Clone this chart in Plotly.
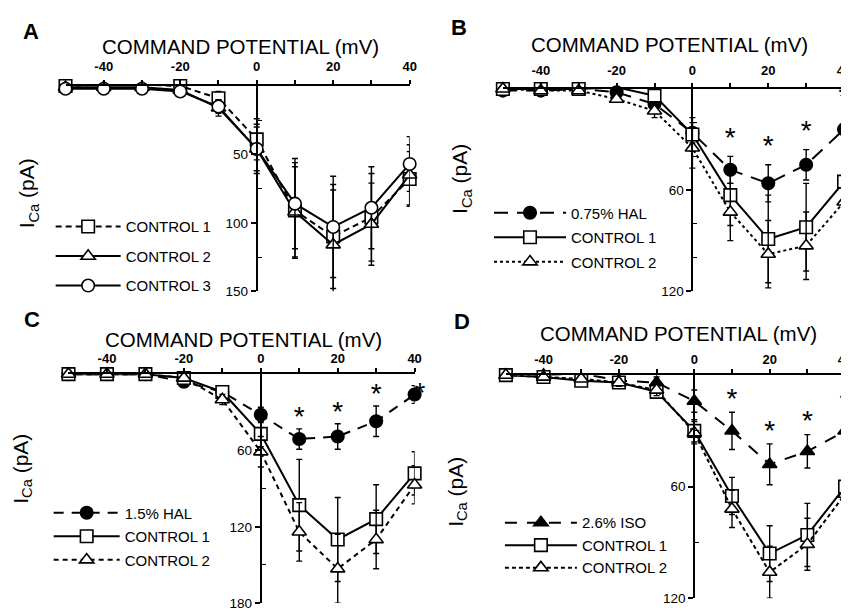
import plotly.graph_objects as go

W, H = 849, 611

# ---------------- data ----------------
volts = [-50, -40, -30, -20, -10, 0, 10, 20, 30, 40]

# Panel A
a_ctrl1 = [0, -1, -1, 0, 9, 39, 91, 110, 96, 68]
a_ctrl1_err = [1, 1, 1, 2, 5, 15, 35, 38, 32, 20]
a_ctrl2 = [1, 1, 1, 3, 16, 46, 92, 116, 101, 65]
a_ctrl2_err = [1, 1, 1, 2, 6, 18, 33, 40, 30, 22]
a_ctrl3 = [2, 2, 2, 4, 15, 46, 86, 103, 89, 57]
a_ctrl3_err = [1, 1, 1, 2, 5, 16, 33, 37, 30, 20]

# Panel B
b_hal = [1, 1, 0, 2, 9, 26, 48, 56, 45, 24]
b_hal_err = [1, 1, 1, 2, 3, 6, 8, 11, 9, 8]
b_ctrl1 = [0, 0, 0, -1, 4, 27, 63, 89, 82, 55]
b_ctrl1_err = [1, 1, 1, 2, 4, 10, 18, 26, 26, 18]
b_ctrl2 = [0, 1, 1, 6, 13, 35, 73, 98, 93, 67]
b_ctrl2_err = [1, 1, 1, 2, 4, 12, 17, 20, 20, 15]

# Panel C
c_hal = [0, 0, 0, 6, 14, 32, 51, 49, 37, 16]
c_hal_err = [1, 1, 1, 2, 3, 6, 8, 10, 12, 7]
c_ctrl1 = [0, 0, 0, 3, 14, 47, 103, 130, 114, 78]
c_ctrl1_err = [1, 1, 1, 2, 4, 10, 36, 33, 27, 17]
c_ctrl2 = [0, 0, 0, 3, 20, 61, 124, 153, 130, 87]
c_ctrl2_err = [1, 1, 1, 2, 4, 12, 23, 27, 23, 15]

# Panel D
d_iso = [-1, 0, -1, 3, 4, 14, 30, 48, 41, 30]
d_iso_err = [1, 1, 1, 2, 3, 6, 10, 11, 9, 8]
d_ctrl1 = [0, 1, 3, 4, 9, 30, 65, 96, 86, 60]
d_ctrl1_err = [1, 1, 1, 2, 3, 6, 10, 15, 17, 10]
d_ctrl2 = [0, 1, 2, 4, 8, 31, 72, 106, 91, 64]
d_ctrl2_err = [1, 1, 1, 2, 3, 6, 10, 14, 14, 10]

sig_volts = [10, 20, 30, 40]

x_major = [-40, -20, 0, 20, 40]
x_minor = [-30, -10, 10, 30]

FONT = "Liberation Sans, Arial, Helvetica, sans-serif"

def px(x):
    return x / W

def py(y):
    return 1 - y / H

# panel geometry in pixels
panels = {
    "A": dict(x0=58, x1=405, y0=79, y1=287, ymax=150, major=[50, 100, 150], minor=[25, 75, 125], standoff=4),
    "B": dict(x0=499, x1=843, y0=82, y1=287, ymax=120, major=[60, 120], minor=[20, 40, 80, 100], standoff=3),
    "C": dict(x0=61, x1=410, y0=371, y1=603, ymax=180, major=[60, 120, 180], minor=[30, 90, 150], standoff=0),
    "D": dict(x0=502, x1=844, y0=372, y1=598, ymax=120, major=[60, 120], minor=[30, 90], standoff=0),
}

fig = go.Figure()
layout = dict(
    width=W, height=H, margin=dict(l=0, r=0, t=0, b=0),
    paper_bgcolor="white", plot_bgcolor="rgba(0,0,0,0)",
    font=dict(family=FONT, color="black"),
    showlegend=True,
)

for i, (name, g) in enumerate(panels.items()):
    sfx = "" if i == 0 else str(i + 1)
    xdom = [px(g["x0"]), px(g["x1"])]
    ydom = [py(g["y1"]), py(g["y0"])]
    x_zero = g["x0"] + (g["x1"] - g["x0"]) * 50 / 90
    layout["xaxis" + sfx] = dict(
        domain=xdom, range=[-50, 40], side="top", anchor="y" + sfx,
        showline=True, linewidth=2, linecolor="black",
        ticks="outside", ticklen=4, tickwidth=1.5, tickcolor="black",
        tickvals=x_major, ticktext=[str(v) for v in x_major],
        minor=dict(tickvals=x_minor, ticks="outside", ticklen=4, tickwidth=1.5, tickcolor="black"),
        tickfont=dict(size=13, family=FONT, weight="bold"),
        ticklabelstandoff=g["standoff"],
        showgrid=False, zeroline=False, fixedrange=True,
    )
    layout["yaxis" + sfx] = dict(
        domain=ydom, range=[g["ymax"], 0], anchor="free", position=px(x_zero),
        showline=True, linewidth=2, linecolor="black",
        ticks="outside", ticklen=5, tickwidth=1.5, tickcolor="black",
        tickvals=g["major"], ticktext=[str(v) for v in g["major"]],
        tickfont=dict(size=13.5, family=FONT),
        minor=dict(tickvals=g["minor"], ticks="inside", ticklen=4, tickwidth=1.2, tickcolor="black"),
        showgrid=False, zeroline=False, fixedrange=True,
    )

ERR = dict(type="data", color="black", thickness=1.4, width=3)

def add_series(xa, ya, leg, name, vals, err, symbol, fill, dash, group):
    fig.add_trace(go.Scatter(
        x=volts, y=vals, xaxis=xa, yaxis=ya, name=name, legend=leg, legendgroup=group,
        mode="lines+markers", cliponaxis=False,
        line=dict(color="black", width=2, dash=dash),
        marker=dict(symbol=symbol, size=12.5, color=fill, line=dict(color="black", width=1.6)),
        error_y=dict(array=err, **ERR),
    ))

def add_stars(xa, ya, vals, err, pad, last_shift=False):
    sx, sy, pos = [], [], []
    for v in sig_volts:
        k = volts.index(v)
        sx.append(v)
        sy.append(vals[k] - err[k] - pad)
        pos.append("middle center")
    if last_shift:
        sy[-1] = vals[-1]
        pos[-1] = "middle right"
    fig.add_trace(go.Scatter(
        x=sx, y=sy, xaxis=xa, yaxis=ya, mode="text", text=["*"] * len(sx),
        textposition=pos, textfont=dict(size=28, family=FONT, color="black"),
        showlegend=False, cliponaxis=False, hoverinfo="skip",
    ))

# Panel A
add_series("x", "y", "legend", "CONTROL 1", a_ctrl1, a_ctrl1_err, "square", "white", "6px,4px", "a1")
add_series("x", "y", "legend", "CONTROL 2", a_ctrl2, a_ctrl2_err, "triangle-up", "white", "solid", "a2")
add_series("x", "y", "legend", "CONTROL 3", a_ctrl3, a_ctrl3_err, "circle", "white", "solid", "a3")

# Panel B
add_series("x2", "y2", "legend2", "0.75% HAL", b_hal, b_hal_err, "circle", "black", "14px,9px", "b1")
add_series("x2", "y2", "legend2", "CONTROL 1", b_ctrl1, b_ctrl1_err, "square", "white", "solid", "b2")
add_series("x2", "y2", "legend2", "CONTROL 2", b_ctrl2, b_ctrl2_err, "triangle-up", "white", "3px,3px", "b3")
add_stars("x2", "y2", b_hal, b_hal_err, 10)

# Panel C
add_series("x3", "y3", "legend3", "1.5% HAL", c_hal, c_hal_err, "circle", "black", "10px,8px", "c1")
add_series("x3", "y3", "legend3", "CONTROL 1", c_ctrl1, c_ctrl1_err, "square", "white", "solid", "c2")
add_series("x3", "y3", "legend3", "CONTROL 2", c_ctrl2, c_ctrl2_err, "triangle-up", "white", "5px,4px", "c3")
add_stars("x3", "y3", c_hal, c_hal_err, 8, last_shift=True)

# Panel D
add_series("x4", "y4", "legend4", "2.6% ISO", d_iso, d_iso_err, "triangle-up", "black", "12px,10px", "d1")
add_series("x4", "y4", "legend4", "CONTROL 1", d_ctrl1, d_ctrl1_err, "square", "white", "solid", "d2")
add_series("x4", "y4", "legend4", "CONTROL 2", d_ctrl2, d_ctrl2_err, "triangle-up", "white", "4px,3px", "d3")
add_stars("x4", "y4", d_iso, d_iso_err, 6)

leg_common = dict(
    bgcolor="rgba(0,0,0,0)", borderwidth=0,
    font=dict(size=15, family=FONT), xanchor="left", yanchor="top",
    traceorder="grouped", itemclick=False, itemdoubleclick=False,
)
layout["legend"] = dict(x=px(43), y=py(205), tracegroupgap=7, itemwidth=65, **leg_common)
layout["legend2"] = dict(x=px(485), y=py(191), tracegroupgap=2, itemwidth=72, **leg_common)
layout["legend3"] = dict(x=px(41), y=py(495), tracegroupgap=1, itemwidth=66, **leg_common)
layout["legend4"] = dict(x=px(496), y=py(505), tracegroupgap=0, itemwidth=72, **leg_common)

annotations = []
for lab, (lx, ly) in {"A": (23, 24), "B": (455, 20), "C": (24, 316), "D": (458, 318)}.items():
    annotations.append(dict(text=lab, x=px(lx), y=py(ly), xref="paper", yref="paper",
                            showarrow=False, font=dict(size=22, family=FONT, weight="bold"),
                            xanchor="center", yanchor="middle"))
for (tx, ty) in [(234, 39), (667, 37), (237, 336), (676, 330)]:
    annotations.append(dict(text="COMMAND POTENTIAL (mV)", x=px(tx), y=py(ty), xref="paper", yref="paper",
                            showarrow=False, font=dict(size=20.5, family=FONT),
                            xanchor="center", yanchor="middle"))
for (tx, ty) in [(20, 188), (457, 173), (14, 467), (452, 490)]:
    annotations.append(dict(text="I<sub>Ca</sub> (pA)", x=px(tx), y=py(ty), xref="paper", yref="paper",
                            showarrow=False, textangle=-90, font=dict(size=21, family=FONT),
                            xanchor="center", yanchor="middle"))
layout["annotations"] = annotations

fig.update_layout(**layout)
fig.write_html("out.html")
